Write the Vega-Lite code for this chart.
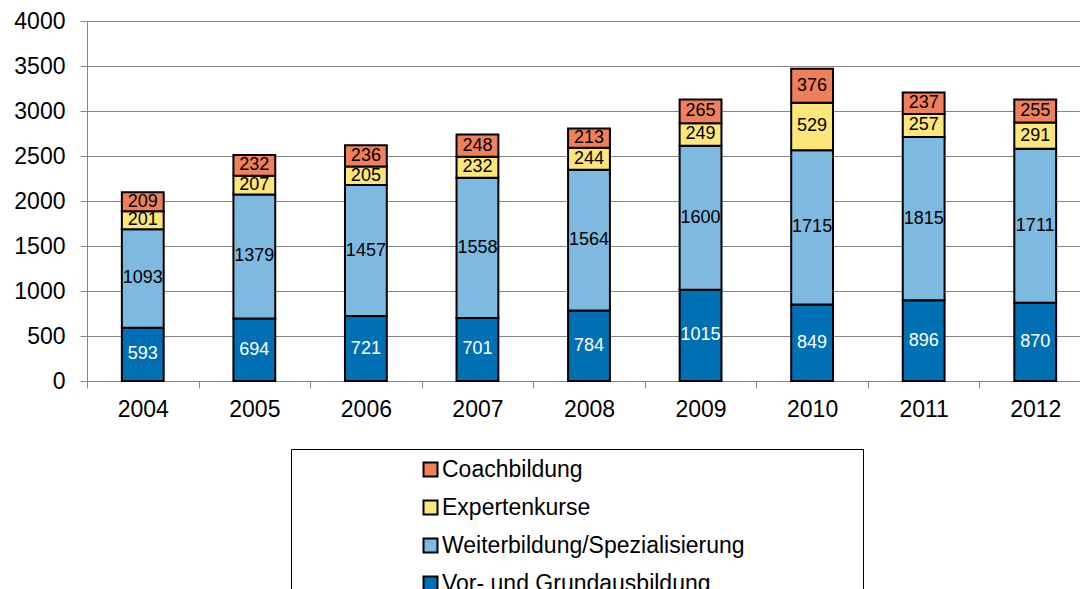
{
  "$schema": "https://vega.github.io/schema/vega-lite/v6.json",
  "width": 993,
  "height": 360,
  "autosize": {"type": "none"},
  "padding": {"left": 87, "top": 21, "right": 0, "bottom": 208},
  "background": "white",
  "config": {
    "font": "Liberation Sans",
    "view": {"stroke": null},
    "axis": {"labelFont": "Liberation Sans", "labelColor": "black"}
  },
  "data": {
    "values": [
      {"year": "2004", "category": "Vor- und Grundausbildung", "k": 1, "value": 593},
      {"year": "2004", "category": "Weiterbildung/Spezialisierung", "k": 2, "value": 1093},
      {"year": "2004", "category": "Expertenkurse", "k": 3, "value": 201},
      {"year": "2004", "category": "Coachbildung", "k": 4, "value": 209},
      {"year": "2005", "category": "Vor- und Grundausbildung", "k": 1, "value": 694},
      {"year": "2005", "category": "Weiterbildung/Spezialisierung", "k": 2, "value": 1379},
      {"year": "2005", "category": "Expertenkurse", "k": 3, "value": 207},
      {"year": "2005", "category": "Coachbildung", "k": 4, "value": 232},
      {"year": "2006", "category": "Vor- und Grundausbildung", "k": 1, "value": 721},
      {"year": "2006", "category": "Weiterbildung/Spezialisierung", "k": 2, "value": 1457},
      {"year": "2006", "category": "Expertenkurse", "k": 3, "value": 205},
      {"year": "2006", "category": "Coachbildung", "k": 4, "value": 236},
      {"year": "2007", "category": "Vor- und Grundausbildung", "k": 1, "value": 701},
      {"year": "2007", "category": "Weiterbildung/Spezialisierung", "k": 2, "value": 1558},
      {"year": "2007", "category": "Expertenkurse", "k": 3, "value": 232},
      {"year": "2007", "category": "Coachbildung", "k": 4, "value": 248},
      {"year": "2008", "category": "Vor- und Grundausbildung", "k": 1, "value": 784},
      {"year": "2008", "category": "Weiterbildung/Spezialisierung", "k": 2, "value": 1564},
      {"year": "2008", "category": "Expertenkurse", "k": 3, "value": 244},
      {"year": "2008", "category": "Coachbildung", "k": 4, "value": 213},
      {"year": "2009", "category": "Vor- und Grundausbildung", "k": 1, "value": 1015},
      {"year": "2009", "category": "Weiterbildung/Spezialisierung", "k": 2, "value": 1600},
      {"year": "2009", "category": "Expertenkurse", "k": 3, "value": 249},
      {"year": "2009", "category": "Coachbildung", "k": 4, "value": 265},
      {"year": "2010", "category": "Vor- und Grundausbildung", "k": 1, "value": 849},
      {"year": "2010", "category": "Weiterbildung/Spezialisierung", "k": 2, "value": 1715},
      {"year": "2010", "category": "Expertenkurse", "k": 3, "value": 529},
      {"year": "2010", "category": "Coachbildung", "k": 4, "value": 376},
      {"year": "2011", "category": "Vor- und Grundausbildung", "k": 1, "value": 896},
      {"year": "2011", "category": "Weiterbildung/Spezialisierung", "k": 2, "value": 1815},
      {"year": "2011", "category": "Expertenkurse", "k": 3, "value": 257},
      {"year": "2011", "category": "Coachbildung", "k": 4, "value": 237},
      {"year": "2012", "category": "Vor- und Grundausbildung", "k": 1, "value": 870},
      {"year": "2012", "category": "Weiterbildung/Spezialisierung", "k": 2, "value": 1711},
      {"year": "2012", "category": "Expertenkurse", "k": 3, "value": 291},
      {"year": "2012", "category": "Coachbildung", "k": 4, "value": 255}
    ]
  },
  "transform": [
    {"stack": "value", "groupby": ["year"], "sort": [{"field": "k", "order": "ascending"}], "as": ["v0", "v1"]},
    {"calculate": "(datum.v0 + datum.v1) / 2", "as": "mid"}
  ],
  "encoding": {
    "x": {
      "field": "year",
      "type": "ordinal",
      "scale": {"range": [0, 1004], "paddingInner": 0, "paddingOuter": 0},
      "axis": {
        "title": null,
        "labelAngle": 0,
        "labelFontSize": 23,
        "labelPadding": 10,
        "tickBand": "extent",
        "tickSize": 7,
        "tickColor": "#868686",
        "domainColor": "#868686",
        "grid": false
      }
    }
  },
  "layer": [
    {
      "mark": {"type": "bar", "width": {"band": 0.375}, "stroke": "black", "strokeWidth": 2},
      "encoding": {
        "y": {
          "field": "v1",
          "type": "quantitative",
          "scale": {"domain": [0, 4000], "nice": false},
          "axis": {
            "title": null,
            "format": "d",
            "values": [0, 500, 1000, 1500, 2000, 2500, 3000, 3500, 4000],
            "labelFontSize": 23,
            "labelPadding": 15,
            "tickSize": 7,
            "tickColor": "#868686",
            "domainColor": "#868686",
            "gridColor": "#868686",
            "gridWidth": 1
          }
        },
        "y2": {"field": "v0"},
        "color": {
          "field": "category",
          "type": "nominal",
          "scale": {
            "domain": ["Coachbildung", "Expertenkurse", "Weiterbildung/Spezialisierung", "Vor- und Grundausbildung"],
            "range": ["#f0805c", "#ffe678", "#7eb9e0", "#0070b5"]
          },
          "legend": {
            "title": null,
            "orient": "none",
            "legendX": 204,
            "legendY": 428,
            "direction": "vertical",
            "strokeColor": "black",
            "fillColor": "white",
            "padding": 9,
            "symbolType": "square",
            "symbolSize": 196,
            "symbolStrokeColor": "black",
            "symbolStrokeWidth": 2,
            "symbolOffset": 119,
            "labelOffset": 0,
            "labelFontSize": 23,
            "labelFont": "Liberation Sans",
            "labelColor": "black",
            "labelLimit": 1000,
            "rowPadding": 14,
            "labelExpr": "datum.label + '\u00a0\u00a0\u00a0\u00a0\u00a0\u00a0\u00a0\u00a0\u00a0\u00a0\u00a0\u00a0\u00a0\u00a0\u00a0\u00a0\u00a0\u200b'"
          }
        }
      }
    },
    {
      "mark": {"type": "text", "fontSize": 18, "baseline": "middle", "align": "center"},
      "encoding": {
        "y": {"field": "mid", "type": "quantitative"},
        "text": {"field": "value", "type": "quantitative"},
        "fill": {
          "condition": {"test": "datum.k === 1", "value": "white"},
          "value": "black"
        }
      }
    }
  ]
}
